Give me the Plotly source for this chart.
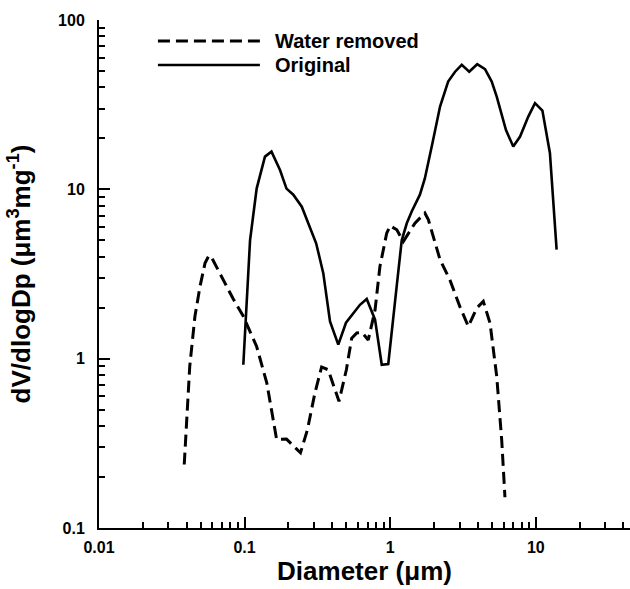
import plotly.graph_objects as go

# ---- data ----
orig_x = [0.098, 0.109, 0.121, 0.138, 0.153, 0.175, 0.194, 0.216, 0.247, 0.28, 0.31,
          0.33, 0.347, 0.386, 0.44, 0.497, 0.62, 0.69, 0.787, 0.875, 0.97, 1.108,
          1.2, 1.3, 1.405, 1.6, 1.73, 1.95, 2.2, 2.5, 2.79, 3.1, 3.49, 3.96, 4.48,
          4.98, 5.39, 6.24, 7.0, 7.8, 8.88, 9.87, 11.1, 12.5, 13.9]
orig_y = [0.92, 5.0, 10.1, 15.6, 16.7, 13.0, 10.1, 9.3, 7.9, 6.0, 4.8,
          3.84, 3.2, 1.66, 1.21, 1.63, 2.08, 2.25, 1.70, 0.92, 0.93, 2.67,
          5.0, 6.3, 7.4, 9.3, 11.6, 18.7, 30.8, 43.3, 49.5, 54.3, 49.5, 54.8, 51.2,
          43.3, 35.3, 22.4, 17.9, 20.5, 26.9, 32.3, 29.2, 16.4, 4.4]

water_x = [0.0385, 0.042, 0.0456, 0.0494, 0.0535, 0.0564, 0.0585, 0.065, 0.075, 0.0836,
           0.098, 0.121, 0.142, 0.166, 0.194, 0.242, 0.27, 0.304, 0.338, 0.375, 0.445,
           0.50, 0.544, 0.59, 0.64, 0.707, 0.787, 0.85, 0.946, 1.0, 1.11, 1.23, 1.48,
           1.73, 1.83, 2.2, 2.57, 3.01, 3.44, 3.93, 4.36, 4.85, 5.39, 5.83, 6.14]
water_y = [0.237, 0.90, 1.78, 2.67, 3.67, 4.01, 4.05, 3.4, 2.67, 2.25,
           1.78, 1.18, 0.72, 0.333, 0.335, 0.278, 0.38, 0.627, 0.893, 0.86, 0.56,
           0.86, 1.32, 1.42, 1.43, 1.29, 1.94, 3.5, 5.5, 6.09, 5.77, 4.92, 6.32,
           7.24, 6.6, 3.84, 2.92, 2.03, 1.55, 1.99, 2.18, 1.62, 0.786, 0.333, 0.152]

x_tickvals = [0.01, 0.1, 1, 10]
x_ticktext = ["0.01", "0.1", "1", "10"]
y_tickvals = [0.1, 1, 10, 100]
y_ticktext = ["0.1", "1", "10", "100"]
x_minor = [m * d for d in (0.01, 0.1, 1, 10) for m in range(2, 10)]
y_minor = [m * d for d in (0.1, 1, 10) for m in range(2, 10)]

legend_names = ["Water removed", "Original"]

FONT = "Liberation Sans, Arial, Helvetica, sans-serif"

fig = go.Figure()
fig.add_trace(go.Scatter(x=water_x, y=water_y, mode="lines", name=legend_names[0],
                         line=dict(color="black", width=3, dash="12px,6px"),
                         showlegend=False))
fig.add_trace(go.Scatter(x=orig_x, y=orig_y, mode="lines", name=legend_names[1],
                         line=dict(color="black", width=2.6),
                         showlegend=False))

axis_common = dict(
    showline=True, linecolor="black", linewidth=2,
    ticks="inside", ticklen=11, tickwidth=2, tickcolor="black",
    showgrid=False, zeroline=False, mirror=False,
    tickfont=dict(family=FONT, size=16, color="black", weight="bold"),
)

fig.update_xaxes(type="log", range=[-2, 1.647], tickmode="array",
                 tickvals=x_tickvals, ticktext=x_ticktext,
                 minor=dict(ticks="inside", ticklen=6, tickwidth=1.5, tickcolor="black",
                            tickmode="array", tickvals=x_minor, showgrid=False),
                 title=dict(text="Diameter (μm)", standoff=7,
                            font=dict(family=FONT, size=26, color="black", weight="bold")),
                 ticklabelstandoff=4,
                 **axis_common)
fig.update_yaxes(type="log", range=[-1, 2], tickmode="array",
                 tickvals=y_tickvals, ticktext=y_ticktext,
                 minor=dict(ticks="inside", ticklen=6, tickwidth=1.5, tickcolor="black",
                            tickmode="array", tickvals=y_minor, showgrid=False),
                 title=dict(text="dV/dlogDp (μm<sup>3</sup>mg<sup>-1</sup>)", standoff=20,
                            font=dict(family=FONT, size=26, color="black", weight="bold")),
                 ticklabelstandoff=9,
                 **axis_common)

# manual legend (long line samples as in the reference)
leg_x0, leg_x1, leg_tx = 0.111, 0.303, 0.328
leg_rows = [(0.9587, "12px,6px", 3, legend_names[0]), (0.9114, "solid", 2.6, legend_names[1])]
for yy, dash, w, name in leg_rows:
    fig.add_shape(type="line", xref="paper", yref="paper", x0=leg_x0, x1=leg_x1,
                  y0=yy, y1=yy, line=dict(color="black", width=w, dash=dash))
    fig.add_annotation(xref="paper", yref="paper", x=leg_tx, y=yy, text=name,
                       showarrow=False, xanchor="left", yanchor="middle",
                       font=dict(family=FONT, size=20, color="black", weight="bold"))

fig.update_layout(width=630, height=589,
                  margin=dict(l=99, r=0, t=20, b=61, autoexpand=False),
                  paper_bgcolor="white", plot_bgcolor="white",
                  showlegend=False)

fig.write_html("out.html", config={"displayModeBar": False},
               post_script="document.body.style.margin='0px';document.body.style.padding='0px';")
